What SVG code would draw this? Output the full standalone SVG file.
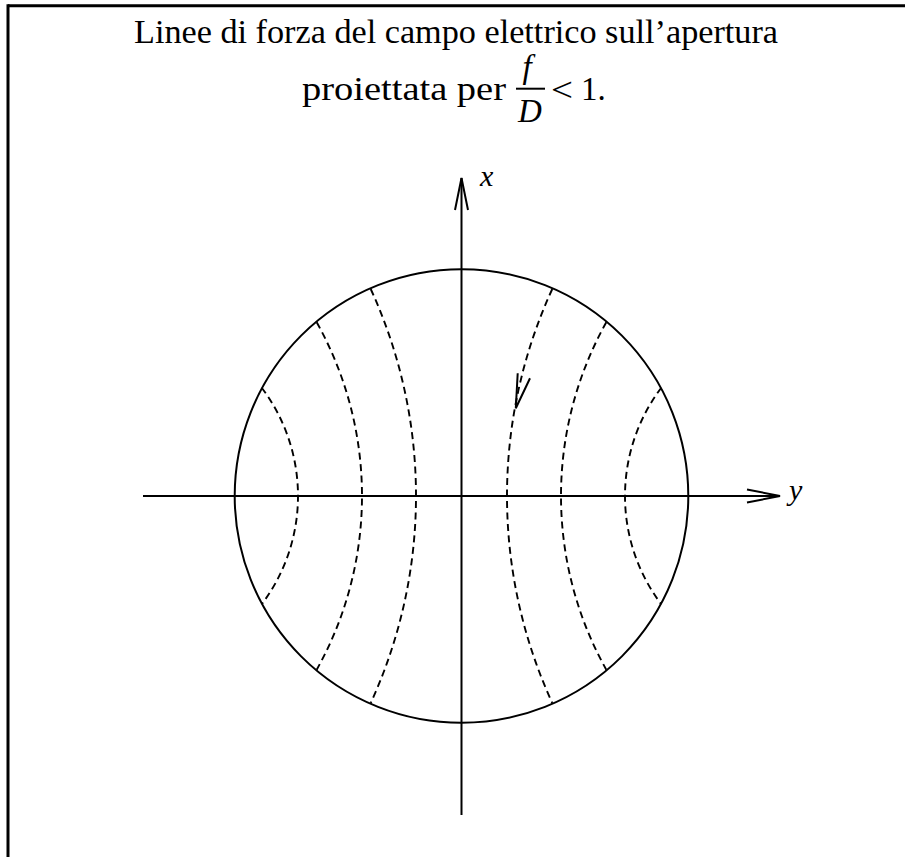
<svg xmlns="http://www.w3.org/2000/svg" width="905" height="857" viewBox="0 0 905 857">
<style>
  .frame { stroke: #000; stroke-width: 3; fill: none; }
  .solid { stroke: #000; stroke-width: 2; fill: none; }
  .axis { stroke: #000; stroke-width: 2; fill: none; }
  .field { stroke: #000; stroke-width: 1.9; fill: none; stroke-dasharray: 7 4.5; }
  .head { stroke: #000; stroke-width: 2; fill: none; stroke-linejoin: miter; }
  .txt { font-family: "Liberation Serif", "DejaVu Serif", serif; font-size: 33px; fill: #000; }
  .it { font-family: "Liberation Serif", "DejaVu Serif", serif; font-style: italic; fill: #000; }
</style>
<rect x="0" y="0" width="905" height="857" fill="#fff"/>
<g id="frame">
  <line class="frame" x1="8" y1="5.7" x2="905" y2="5.7"/>
  <line class="frame" x1="8" y1="4.2" x2="8" y2="857"/>
</g>
<g id="title">
  <text class="txt" x="134" y="43" textLength="644" lengthAdjust="spacingAndGlyphs">Linee di forza del campo elettrico sull’apertura</text>
  <text class="txt" x="302" y="100" textLength="204" lengthAdjust="spacingAndGlyphs">proiettata per</text>
  <text class="it" x="527" y="78" font-size="33" text-anchor="middle">f</text>
  <line class="solid" x1="516" y1="88.7" x2="545" y2="88.7" stroke-width="2.5"/>
  <text class="it" x="530" y="122" font-size="33" text-anchor="middle">D</text>
  <text class="txt" x="551" y="101" font-size="40" textLength="22" lengthAdjust="spacingAndGlyphs">&lt;</text>
  <text class="txt" x="581" y="100">1.</text>
</g>
<g id="aperture">
  <circle class="solid" cx="461.5" cy="496" r="226.8"/>
</g>
<g id="field-lines">
  <path class="field" d="M261.7 387.7 A179.7 179.7 0 0 1 261.7 604.3"/>
  <path class="field" d="M316.7 322.3 A355.7 355.7 0 0 1 316.7 669.7"/>
  <path class="field" d="M370.7 289 A495.6 495.6 0 0 1 370.7 703"/>
  <path class="field" d="M661.3 387.7 A179.7 179.7 0 0 0 661.3 604.3"/>
  <path class="field" d="M606.3 322.3 A355.7 355.7 0 0 0 606.3 669.7"/>
  <path class="field" d="M552.3 289 A495.6 495.6 0 0 0 552.3 703"/>
  <polyline class="head" points="517.7,373.3 515.8,408.3 530,378.3"/>
</g>
<g id="connectors">
  <line class="axis" x1="461.5" y1="178" x2="461.5" y2="815"/>
  <polyline class="head" points="455,210 461.5,178 468,210"/>
  <line class="axis" x1="143" y1="496" x2="780" y2="496"/>
  <polyline class="head" points="747,489.5 780,496 747,502.5"/>
</g>
<g id="label-x">
  <text class="it" x="480" y="186" font-size="30">x</text>
</g>
<g id="label-y">
  <text class="it" x="789" y="500" font-size="30">y</text>
</g>
</svg>
